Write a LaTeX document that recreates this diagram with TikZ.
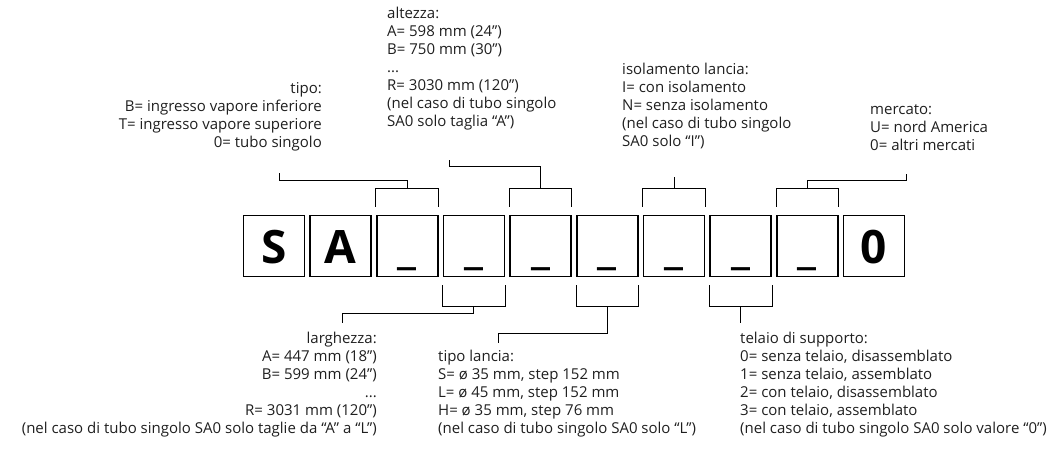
\documentclass[tikz,border=0pt]{standalone}
\usepackage{fontspec}
\setmainfont{Open Sans}
\usetikzlibrary{calc}

\tikzset{
  cell/.style={draw, line width=1.6pt, minimum size=61pt, inner sep=0pt,
    text height=35pt, text depth=0pt, font=\fontsize{46}{46}\selectfont\bfseries},
  legend/.style={inner sep=0pt, text=black!88, font=\fontsize{15}{18}\selectfont},
  wire/.style={line width=0.9pt}
}

\begin{document}
\begin{tikzpicture}[x=1pt, y=-1pt, line cap=butt, line join=miter]

  %% ==== code boxes ====
  \node[cell] (c1)  at (273.8,245.8) {S};
  \node[cell] (c2)  at (340.5,245.8) {A};
  \node[cell] (c3)  at (407.2,245.8) {\_};
  \node[cell] (c4)  at (473.9,245.8) {\_};
  \node[cell] (c5)  at (540.6,245.8) {\_};
  \node[cell] (c6)  at (607.3,245.8) {\_};
  \node[cell] (c7)  at (674.0,245.8) {\_};
  \node[cell] (c8)  at (740.7,245.8) {\_};
  \node[cell] (c9)  at (807.4,245.8) {\_};
  \node[cell] (c10) at (874.1,245.8) {0};

  %% ==== legend texts ====
  \node[legend, anchor=north east, align=right] (tipo) at (322,82)
    {tipo:\\B= ingresso vapore inferiore\\T= ingresso vapore superiore\\0= tubo singolo};
  \node[legend, anchor=north west, align=left] (altezza) at (387,7)
    {altezza:\\A= 598 mm (24”)\\B= 750 mm (30”)\\...\\R= 3030 mm (120”)\\(nel caso di tubo singolo\\SA0 solo taglia “A”)};
  \node[legend, anchor=north west, align=left] (isolamento) at (622,63)
    {isolamento lancia:\\I= con isolamento\\N= senza isolamento\\(nel caso di tubo singolo\\SA0 solo “I”)};
  \node[legend, anchor=north west, align=left] (mercato) at (870,104)
    {mercato:\\U= nord America\\0= altri mercati};
  \node[legend, anchor=north east, align=right] (larghezza) at (377,332)
    {larghezza:\\A= 447 mm (18”)\\B= 599 mm (24”)\\...\\R= 3031 mm (120”)\\(nel caso di tubo singolo SA0 solo taglie da “A” a “L”)};
  \node[legend, anchor=north west, align=left] (lancia) at (438,350)
    {tipo lancia:\\S= ø 35 mm, step 152 mm\\L= ø 45 mm, step 152 mm\\H= ø 35 mm, step 76 mm\\(nel caso di tubo singolo SA0 solo “L”)};
  \node[legend, anchor=north west, align=left] (telaio) at (740,332)
    {telaio di supporto:\\0= senza telaio, disassemblato\\1= senza telaio, assemblato\\2= con telaio, disassemblato\\3= con telaio, assemblato\\(nel caso di tubo singolo SA0 solo valore “0”)};

  %% ==== bracket tops / bottoms ====
  \coordinate (t3) at ($(c3.north)+(0,-26)$);
  \coordinate (t5) at ($(c5.north)+(0,-26)$);
  \coordinate (t7) at ($(c7.north)+(0,-26)$);
  \coordinate (t9) at ($(c9.north)+(0,-26)$);
  \coordinate (b4) at ($(c4.south)+(0,29)$);
  \coordinate (b6) at ($(c6.south)+(0,29)$);
  \coordinate (b8) at ($(c8.south)+(0,29)$);

  \draw[wire] ($(c3.north west)+(0,-8)$) |- (t3) -| ($(c3.north east)+(0,-8)$);
  \draw[wire] ($(c5.north west)+(0,-8)$) |- (t5) -| ($(c5.north east)+(0,-8)$);
  \draw[wire] ($(c7.north west)+(0,-8)$) |- (t7) -| ($(c7.north east)+(0,-8)$);
  \draw[wire] ($(c9.north west)+(0,-8)$) |- (t9) -| ($(c9.north east)+(0,-8)$);
  \draw[wire] ($(c4.south west)+(0,8)$) |- (b4) -| ($(c4.south east)+(0,8)$);
  \draw[wire] ($(c6.south west)+(0,8)$) |- (b6) -| ($(c6.south east)+(0,8)$);
  \draw[wire] ($(c8.south west)+(0,8)$) |- (b8) -| ($(c8.south east)+(0,8)$);

  %% ==== leaders to the texts ====
  \coordinate (tipoEnd)  at (279,173);
  \coordinate (altEnd)   at (449,160);
  \coordinate (isoEnd)   at (674,177);
  \coordinate (mercEnd)  at (906,174);
  \coordinate (largEnd)  at (342,323);
  \coordinate (lanEnd)   at (498,343);
  \coordinate (telEnd)   at (740.7,323);

  \draw[wire] (t3) -- ++(0,-8) -| (tipoEnd);
  \draw[wire] (t5) -- ++(0,-22) -| (altEnd);
  \draw[wire] (t7) -- (isoEnd);
  \draw[wire] (t9) -- ++(0,-8) -| (mercEnd);
  \draw[wire] (b4) -- ++(0,7) -| (largEnd);
  \draw[wire] (b6) -- ++(0,27) -| (lanEnd);
  \draw[wire] (b8) -- (telEnd);

  % fix the canvas to the reference size
  \pgfresetboundingbox
  \path[use as bounding box] (0,0) rectangle (1057,459);
\end{tikzpicture}
\end{document}
